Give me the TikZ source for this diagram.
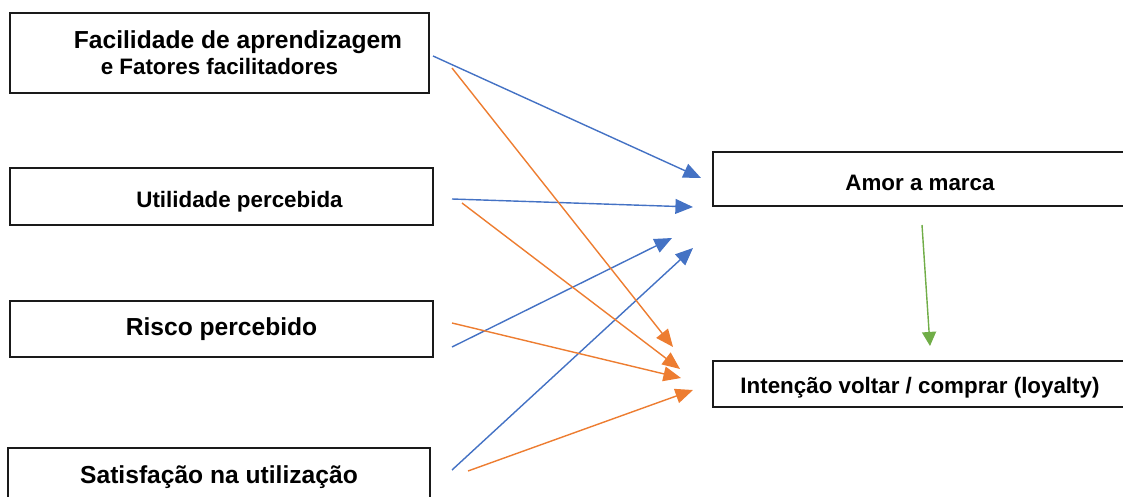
\documentclass[tikz,border=0pt]{standalone}
\usepackage{fontspec}
\setmainfont{Liberation Sans}
\usepackage{xcolor}
\usetikzlibrary{arrows.meta,positioning}
\definecolor{Ink}{HTML}{1A1A1A}
\definecolor{Azul}{HTML}{4472C4}
\definecolor{Laranja}{HTML}{ED7D31}
\definecolor{Verde}{HTML}{70AD47}
\tikzset{
  caixa/.style={draw=Ink,line width=1.2pt,inner sep=0pt,align=center,
    font=\bfseries\fontsize{15.9}{18}\selectfont},
  grande/.style={font=\bfseries\fontsize{17.5}{15}\selectfont},
  base/.style={text height=#1,text depth=0pt},
  seta/.style={line width=1pt,-{Triangle[length=12.5pt,width=10.5pt]}}
}

\begin{document}
\begin{tikzpicture}[x=0.025cm,y=-0.025cm]
  \useasboundingbox (0,0) rectangle (1123,497);
  % fatores (esquerda)
  \node[caixa,grande,minimum width=10.475cm,minimum height=2cm] (fac) at (219.5,53)
    {\hspace*{0.925cm}Facilidade de aprendizagem\\[2.5pt]{\fontsize{15.9}{15}\selectfont e Fatores facilitadores}};
  \node[caixa,base=0.525cm,minimum width=10.575cm,minimum height=1.425cm] (uti) at (221.5,196.5)
    {\hspace*{0.9cm}Utilidade percebida};
  \node[caixa,grande,minimum width=10.575cm,minimum height=1.4cm] (ris) at (221.5,329) {Risco percebido};
  \node[caixa,grande,minimum width=10.55cm,minimum height=1.45cm] (sat) at (219,477) {Satisfação na utilização};
  % resultados (direita)
  \node[caixa,base=0.6cm,minimum width=10.35cm,minimum height=1.35cm] (amor) at (920,179) {Amor a marca};
  \node[caixa,base=0.45cm,minimum width=10.35cm,minimum height=1.15cm] (int) at (920,384) {Intenção voltar / comprar (loyalty)};

  % pontas livres das setas
  \coordinate (facA) at (433,56);  \coordinate (facB) at (452,68);
  \coordinate (utiA) at (452,199); \coordinate (utiB) at (462,203);
  \coordinate (risA) at (452,347); \coordinate (risB) at (452,323);
  \coordinate (satA) at (452,470); \coordinate (satB) at (468,471);
  \coordinate (amor1) at (701,178); \coordinate (amor2) at (693,207);
  \coordinate (amor3) at (672,238); \coordinate (amor4) at (693,248);
  \coordinate (int1) at (673,347); \coordinate (int2) at (680,369);
  \coordinate (int3) at (681,378); \coordinate (int4) at (693,390);
  \coordinate (amorS) at (922,225); \coordinate (intE) at (930,346);

  \foreach \a/\b in {facA/amor1,utiA/amor2,risA/amor3,satA/amor4}{
    \draw[seta,Azul] (\a) -- (\b);
  }
  \foreach \a/\b in {facB/int1,utiB/int2,risB/int3,satB/int4}{
    \draw[seta,Laranja] (\a) -- (\b);
  }
  \draw[seta,Verde,-{Triangle[length=10pt,width=10pt]}] (amorS) -- (intE);
\end{tikzpicture}
\end{document}
